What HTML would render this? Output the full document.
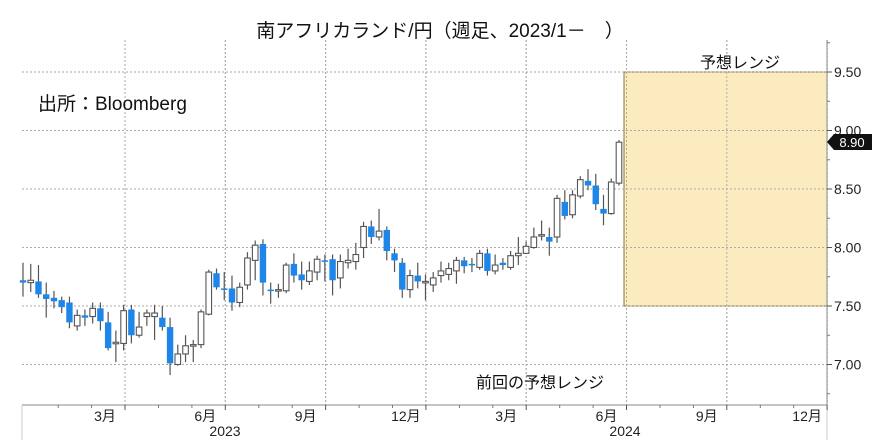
<!DOCTYPE html>
<html><head><meta charset="utf-8">
<style>
body{margin:0;background:#fff;}
svg{display:block;font-family:"Liberation Sans","Noto Sans CJK JP",sans-serif;}
</style></head>
<body>
<svg id="chart" width="877" height="445" viewBox="0 0 877 445">
<text x="440" y="37" font-size="19" text-anchor="middle" fill="#111">南アフリカランド/円（週足、2023/1－　）</text>
<g id="grid"></g>
<rect x="624" y="72" width="203" height="234" fill="#fdebc0" stroke="#8a7636" stroke-width="1"/>
<g id="grid2"></g>
<g id="candles"></g>
<g id="axes"></g>
<text x="38" y="110" font-size="19" fill="#111">出所：Bloomberg</text>
<text x="740" y="68" font-size="16" text-anchor="middle" fill="#111">予想レンジ</text>
<text x="540" y="388" font-size="16" text-anchor="middle" fill="#111">前回の予想レンジ</text>
<g>
<polygon points="827,142 834,134 872,134 872,150 834,150" fill="#111"/>
<text x="852" y="147" font-size="13" text-anchor="middle" fill="#fff">8.90</text>
</g>
</svg>
<script>
const opens=[7.72,7.70,7.71,7.60,7.57,7.55,7.53,7.33,7.42,7.41,7.48,7.36,7.18,7.18,7.47,7.25,7.41,7.41,7.40,7.32,7.00,7.09,7.16,7.17,7.43,7.78,7.65,7.65,7.53,7.68,7.89,8.03,7.64,7.64,7.63,7.86,7.77,7.71,7.79,7.89,7.90,7.74,7.87,7.88,8.00,8.18,8.09,8.15,7.95,7.87,7.64,7.76,7.71,7.68,7.76,7.77,7.80,7.89,7.86,7.83,7.95,7.80,7.87,7.83,7.93,7.95,8.00,8.10,8.09,8.09,8.39,8.28,8.44,8.57,8.53,8.33,8.29,8.55];
const closes=[7.70,7.72,7.60,7.56,7.54,7.49,7.36,7.42,7.40,7.48,7.37,7.14,7.19,7.46,7.25,7.32,7.44,7.44,7.32,7.01,7.09,7.16,7.17,7.45,7.79,7.66,7.64,7.53,7.66,7.91,8.02,7.70,7.63,7.64,7.85,7.76,7.72,7.80,7.90,7.88,7.72,7.88,7.89,7.94,8.18,8.09,8.14,7.97,7.89,7.64,7.76,7.71,7.71,7.74,7.80,7.82,7.89,7.84,7.85,7.95,7.80,7.85,7.85,7.93,7.95,8.01,8.09,8.11,8.05,8.42,8.27,8.45,8.58,8.53,8.37,8.29,8.56,8.90];
const highs=[7.87,7.86,7.85,7.70,7.63,7.58,7.58,7.47,7.47,7.53,7.53,7.45,7.29,7.51,7.51,7.45,7.47,7.51,7.50,7.40,7.17,7.25,7.21,7.47,7.81,7.82,7.79,7.76,7.70,7.96,8.06,8.07,7.70,7.69,7.87,7.95,7.88,7.88,7.93,7.94,7.94,7.94,7.99,8.04,8.22,8.23,8.33,8.18,7.99,7.91,7.81,7.87,7.77,7.79,7.88,7.87,7.92,7.92,7.91,7.98,7.99,7.94,7.91,7.97,8.09,8.05,8.17,8.23,8.17,8.45,8.49,8.49,8.61,8.67,8.63,8.45,8.59,8.92];
const lows=[7.58,7.62,7.57,7.40,7.48,7.44,7.31,7.29,7.33,7.35,7.29,7.12,7.02,7.12,7.18,7.23,7.33,7.21,7.29,6.91,6.99,7.02,7.02,7.14,7.42,7.64,7.55,7.46,7.49,7.64,7.72,7.59,7.52,7.57,7.61,7.70,7.64,7.68,7.72,7.71,7.59,7.65,7.82,7.81,7.91,8.03,8.06,7.89,7.79,7.57,7.57,7.65,7.55,7.62,7.70,7.72,7.69,7.78,7.79,7.81,7.76,7.77,7.81,7.81,7.85,7.95,7.99,8.06,7.93,8.04,8.24,8.25,8.42,8.49,8.32,8.19,8.28,8.53];
const yTicks=[7.00,7.50,8.00,8.50,9.00,9.50];
const monthLabels=["3月","6月","9月","12月","3月","6月","9月","12月"];
const yearLabels=["2023","2024"];

const NS="http://www.w3.org/2000/svg";
const L=22,R=827,T=40,B=405;
function y(v){return 72+(9.5-v)*117;}
function x(i){return 23+i*7.74;}
function monthX(k){return 125+k*100.3;}
function mk(tag,attrs,parent){const e=document.createElementNS(NS,tag);for(const k in attrs)e.setAttribute(k,attrs[k]);parent.appendChild(e);return e;}
const grid=document.getElementById('grid'),grid2=document.getElementById('grid2'),cg=document.getElementById('candles'),ax=document.getElementById('axes');
// gridlines
for(const g of [grid,grid2]){
  yTicks.forEach(v=>{const l=mk('line',{x1:L,x2:R,y1:y(v),y2:y(v),stroke:'#aaa','stroke-dasharray':'2,2','stroke-width':1},g);
  
  });
  monthLabels.forEach((m,k)=>{const l=mk('line',{x1:monthX(k),x2:monthX(k),y1:T,y2:B,stroke:'#aaa','stroke-dasharray':'2,2','stroke-width':1},g);
  
  });
}
// candles
opens.forEach((o,i)=>{
  const c=closes[i],up=c>=o,cx=x(i);
  const grp=mk('g',{},cg);
  
  
  mk('line',{x1:cx,x2:cx,y1:y(highs[i]),y2:y(lows[i]),stroke:up?'#555':'#555','stroke-width':1.2},grp);
  const top=y(Math.max(o,c)),h=Math.max(1.5,Math.abs(y(o)-y(c)));
  if(up) mk('rect',{x:cx-2.8,y:top,width:5.6,height:h,fill:'#fff',stroke:'#555','stroke-width':1.1},grp);
  else mk('rect',{x:cx-3.2,y:top,width:6.4,height:h,fill:'#1e86e8'},grp);
});
// axes
mk('line',{x1:R,x2:R,y1:T,y2:B,stroke:'#888','stroke-width':1},ax);
mk('line',{x1:L,x2:R,y1:B,y2:B,stroke:'#888','stroke-width':1},ax);
mk('line',{x1:L,x2:L,y1:B,y2:440,stroke:'#ccc','stroke-width':1},ax);
mk('line',{x1:R,x2:R,y1:B,y2:440,stroke:'#ccc','stroke-width':1},ax);
yTicks.forEach(v=>{
  mk('line',{x1:R,x2:R+5,y1:y(v),y2:y(v),stroke:'#555'},ax);
  mk('line',{x1:R,x2:R+3,y1:y(v+0.25),y2:y(v+0.25),stroke:'#777'},ax);
  const t=mk('text',{x:R+7,y:y(v)+5,'font-size':14,fill:'#222'},ax);
  t.textContent=v.toFixed(2);
  
  
});
mk('line',{x1:R,x2:R+3,y1:y(6.75),y2:y(6.75),stroke:'#777'},ax);
monthLabels.forEach((m,k)=>{
  const mx=monthX(k);
  mk('line',{x1:mx,x2:mx,y1:B,y2:B+5,stroke:'#555'},ax);
  for(let j=1;j<3;j++)mk('line',{x1:mx-j*33.4,x2:mx-j*33.4,y1:B,y2:B+3,stroke:'#777'},ax);
  const t=mk('text',{x:mx-20,y:B+16,'font-size':14,'text-anchor':'middle',fill:'#222'},ax);
  t.textContent=m;
  
  
});
yearLabels.forEach((yl,k)=>{
  const t=mk('text',{x:k?625:225,y:B+31,'font-size':14,'text-anchor':'middle',fill:'#222'},ax);
  t.textContent=yl;
  
  
});
</script>
</body></html>
